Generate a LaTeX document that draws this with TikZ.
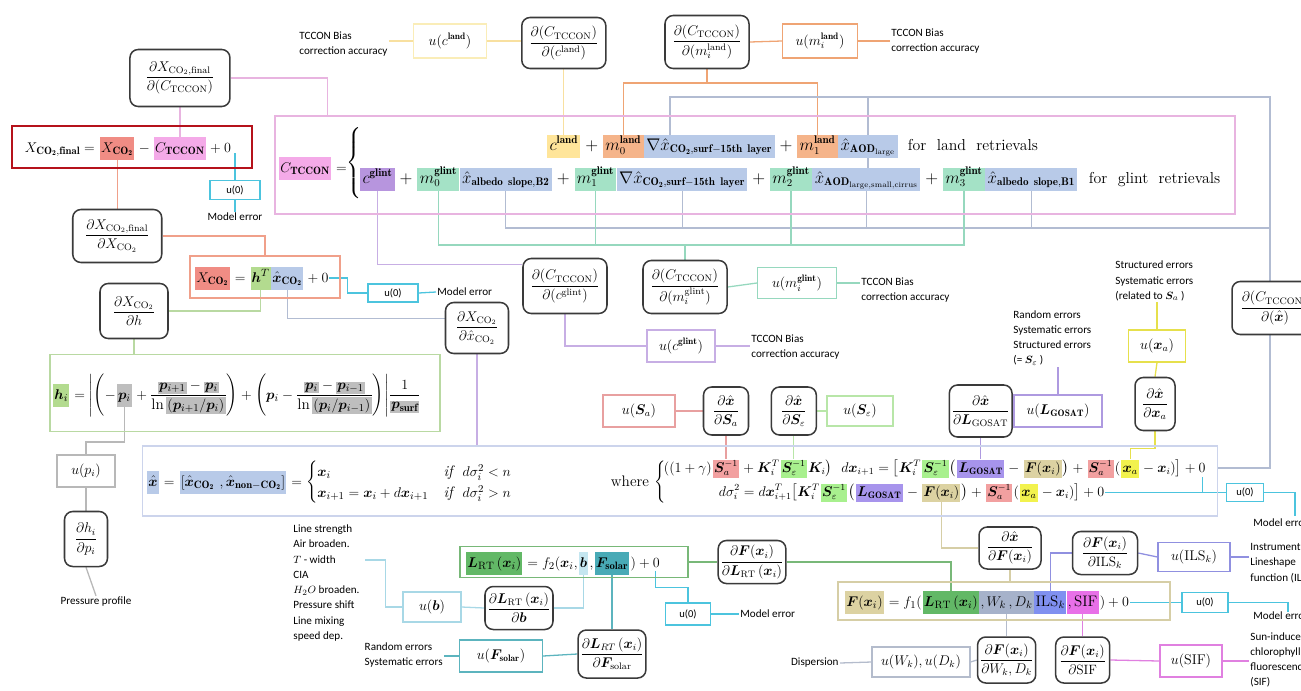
\documentclass[tikz,border=0pt]{standalone}
\usepackage{amsmath}
\usepackage{bm}
\usepackage{fontspec}
\newfontfamily\lblfont{Carlito}
\usetikzlibrary{calc,positioning}
\pgfdeclarelayer{bg}
\pgfsetlayers{bg,main}

\definecolor{dgray}{HTML}{3A3A3A}
\definecolor{cDarkRed}{HTML}{B5121B}
\definecolor{cRed}{HTML}{F08C84}
\definecolor{cSalmon}{HTML}{F0A08A}
\definecolor{cPink}{HTML}{F4AAE8}
\definecolor{cPinkW}{HTML}{E8B4E0}
\definecolor{cYellow}{HTML}{FFE59A}
\definecolor{cYellowW}{HTML}{F8E0A0}
\definecolor{cYellowB}{HTML}{FAEDB8}
\definecolor{cOrange}{HTML}{F5B48A}
\definecolor{cOrangeW}{HTML}{EFA474}
\definecolor{cBlue}{HTML}{B8CAE8}
\definecolor{cBlueW}{HTML}{B2BCD2}
\definecolor{cMint}{HTML}{A4E2C6}
\definecolor{cMintW}{HTML}{96D8BE}
\definecolor{cPurple}{HTML}{B795DE}
\definecolor{cPurpleW}{HTML}{C7AEE4}
\definecolor{cGreen}{HTML}{B3DB8F}
\definecolor{cGreenW}{HTML}{B9D9A2}
\definecolor{cGray}{HTML}{BEBEBE}
\definecolor{cGrayW}{HTML}{B8B8B8}
\definecolor{cCyan}{HTML}{4CC4DE}
\definecolor{cSa}{HTML}{F2A0A0}
\definecolor{cSaW}{HTML}{E8A0A0}
\definecolor{cSe}{HTML}{A8F08E}
\definecolor{cSeW}{HTML}{B8E6A8}
\definecolor{cLG}{HTML}{A794EC}
\definecolor{cLGW}{HTML}{AE9AE0}
\definecolor{cFx}{HTML}{DCD2A2}
\definecolor{cFxW}{HTML}{D6CEA6}
\definecolor{cXa}{HTML}{F2F24E}
\definecolor{cXaW}{HTML}{E6E04C}
\definecolor{cLav}{HTML}{CCD4EC}
\definecolor{cLRT}{HTML}{62B866}
\definecolor{cLRTW}{HTML}{78B878}
\definecolor{cB}{HTML}{C4E6F0}
\definecolor{cBW}{HTML}{A8D8E6}
\definecolor{cFs}{HTML}{48AAB6}
\definecolor{cFsW}{HTML}{5CB4BE}
\definecolor{cWD}{HTML}{A6B2CA}
\definecolor{cWDW}{HTML}{B4BCCC}
\definecolor{cILS}{HTML}{8090F0}
\definecolor{cILSW}{HTML}{9090E0}
\definecolor{cSIF}{HTML}{E870E8}
\definecolor{cSIFW}{HTML}{E080E0}

\newcommand{\eqsize}{\fontsize{13.5}{15}\selectfont}
\newcommand{\hqsize}{\fontsize{13}{15}\selectfont}
\newcommand{\rowsize}{\fontsize{12}{14}\selectfont}
\newcommand{\dsize}{\fontsize{11.5}{13}\selectfont}
\newcommand{\usize}{\fontsize{12}{14}\selectfont}
\newcommand{\hg}[1]{{\setlength{\fboxsep}{1pt}\colorbox{cGray}{$#1$}}}
\newcommand{\tcc}{\mathbf{TCCON}}

\tikzset{
  sz/.style 2 args={minimum width=#1*0.3mm, minimum height=#2*0.3mm},
  eqbox/.style={draw=#1, line width=1pt, inner sep=0pt},
  hl/.style={fill=#1, inner xsep=2pt, inner ysep=2pt, text height=11pt, text depth=4.5pt, font=\eqsize},
  hlc/.style={hl=#1, inner xsep=1pt, font=\hqsize},
  hls/.style={fill=#1, inner xsep=1pt, inner ysep=1pt, text height=9.5pt, text depth=4pt, font=\rowsize},
  eqt/.style={inner xsep=0.6pt, inner ysep=0pt, font=\eqsize},
  eqc/.style={eqt, font=\hqsize},
  eqr/.style={eqt, font=\rowsize},
  nxt/.style={anchor=base west, at={(#1.base east)}},
  deriv/.style={draw=dgray, line width=1.3pt, rounded corners=7pt, fill=white, inner sep=2pt, font=\dsize},
  ubox/.style={draw=#1, line width=1pt, fill=white, inner sep=2pt, font=\usize},
  uzero/.style={ubox=cCyan, font={\lblfont\fontsize{9}{10}\selectfont}},
  lbl/.style={font={\lblfont\fontsize{9.5}{13}\selectfont}, align=left, inner sep=1pt},
  wire/.style={draw=#1, line width=1.1pt},
}

\begin{document}
\begin{tikzpicture}[x=0.3mm, y=-0.3mm]
\useasboundingbox (0,0) rectangle (1301,690);

% final XCO2
\node[eqbox=cDarkRed, line width=2.4pt, sz={240}{42}] (finbox) at (132,147) {};
\node[eqc, anchor=base west] (fin0) at (24,152) {$X_{\mathbf{CO_2,final}}={}$};
\node[hlc=cRed, nxt=fin0] (fxco2) {$X_{\mathbf{CO_2}}$};
\node[eqc, nxt=fxco2] (fin1) {${}-{}$};
\node[hlc=cPink, nxt=fin1] (fctc) {$C_{\tcc}$};
\node[eqc, nxt=fctc] (fin2) {${}+0$};

% C_TCCON
\node[eqbox=cPinkW, sz={960}{98}] (tccbox) at (755,165) {};
\node[hlc=cPink, anchor=base west] (ctc) at (279,172) {$C_{\tcc}$};
\node[eqc, nxt=ctc] (ceq) {${}={}$};
\node[eqt] (brc) at (355,163) {$\left\{\vrule width 0pt height 26pt depth 26pt\right.$};
\node[hl=cYellow, anchor=base west] (cland) at (547,150) {$c^{\mathbf{land}}$};
\node[eqt, nxt=cland] (lp1) {${}+{}$};
\node[hl=cOrange, nxt=lp1] (m0l) {$m_0^{\mathbf{land}}$};
\node[hl=cBlue, nxt=m0l] (gradl) {$\nabla\hat{x}_{\mathbf{CO_2,surf-15th\ layer}}$};
\node[eqt, nxt=gradl] (lp2) {${}+{}$};
\node[hl=cOrange, nxt=lp2] (m1l) {$m_1^{\mathbf{land}}$};
\node[hl=cBlue, nxt=m1l] (aodl) {$\hat{x}_{\mathbf{AOD}_{\mathrm{large}}}$};
\node[eqt, anchor=base west] (lret) at (907,150) {for\ \ land\ \ retrievals};
\node[hl=cPurple, anchor=base west] (cglint) at (360,183) {$c^{\mathbf{glint}}$};
\node[eqt, nxt=cglint] (gp1) {${}+{}$};
\node[hl=cMint, nxt=gp1] (m0g) {$m_0^{\mathbf{glint}}$};
\node[hl=cBlue, nxt=m0g] (albB2) {$\hat{x}_{\mathbf{albedo\ slope,B2}}$};
\node[eqt, nxt=albB2] (gp2) {${}+{}$};
\node[hl=cMint, nxt=gp2] (m1g) {$m_1^{\mathbf{glint}}$};
\node[hl=cBlue, nxt=m1g] (gradg) {$\nabla\hat{x}_{\mathbf{CO_2,surf-15th\ layer}}$};
\node[eqt, nxt=gradg] (gp3) {${}+{}$};
\node[hl=cMint, nxt=gp3] (m2g) {$m_2^{\mathbf{glint}}$};
\node[hl=cBlue, nxt=m2g] (aodg) {$\hat{x}_{\mathbf{AOD}_{\mathrm{large,small,cirrus}}}$};
\node[eqt, nxt=aodg] (gp4) {${}+{}$};
\node[hl=cMint, nxt=gp4] (m3g) {$m_3^{\mathbf{glint}}$};
\node[hl=cBlue, nxt=m3g] (albB1) {$\hat{x}_{\mathbf{albedo\ slope,B1}}$};
\node[eqt, anchor=base west] (gret) at (1088,183) {for\ \ glint\ \ retrievals};

% XCO2
\node[eqbox=cSalmon, sz={150}{42}] (xbox) at (265,277) {};
\node[hlc=cRed, anchor=base west] (xco2) at (195,282) {$X_{\mathbf{CO_2}}$};
\node[eqc, nxt=xco2] (xe1) {${}={}$};
\node[hlc=cGreen, nxt=xe1] (hT) {$\bm h^T$};
\node[hlc=cBlue, nxt=hT] (xhco2) {$\hat{\bm x}_{\mathbf{CO_2}}$};
\node[eqc, nxt=xhco2] (xe2) {${}+0$};

% h_i
\node[eqbox=cGreenW, sz={390}{77}] (hbox) at (245,393) {};
\node[hlc=cGreen, anchor=base west] (hi) at (53,399) {$\bm h_i$};
\node[eqc, nxt=hi] (h1) {${}={}\Bigg|\Bigg(-$};
\node[hlc=cGray, nxt=h1] (pi) {$\bm p_i$};
\node[eqc, nxt=pi] (h2) {${}+\dfrac{\hg{\bm p_{i+1}}-\hg{\bm p_i}}{\ln\hg{(\bm p_{i+1}/\bm p_i)}}\Bigg)+\Bigg(\bm p_i-\dfrac{\hg{\bm p_i}-\hg{\bm p_{i-1}}}{\ln\hg{(\bm p_i/\bm p_{i-1})}}\Bigg)\Bigg|\dfrac{1}{\hg{\bm p_{\mathbf{surf}}}}$};

% x hat
\node[eqbox=cLav, sz={1075}{70}] (xhbox) at (680,481) {};
\node[hlc=cBlue, anchor=base west] (xh) at (147,486) {$\hat{\bm x}$};
\node[eqc, nxt=xh] (xq1) {${}={}$};
\node[hlc=cBlue, nxt=xq1] (xhv) {$[\hat{\bm x}_{\mathbf{CO_2}}\ ,\hat{\bm x}_{\mathbf{non-CO_2}}]$};
\node[eqc, nxt=xhv] (xq2) {${}=\begin{cases}\bm x_i & \mathit{if}\ \ d\sigma_i^2<n\\ \bm x_{i+1}=\bm x_i+d\bm x_{i+1} & \mathit{if}\ \ d\sigma_i^2>n\end{cases}$};
\node[eqc, anchor=base west] (where) at (610,486) {where\ $\left\{\vrule width 0pt height 20pt depth 14pt\right.$};
\node[eqr, anchor=base west] (r1a) at (663,472) {$((1+\gamma)$};
\node[hls=cSa, nxt=r1a] (r1Sa) {$\bm S_a^{-1}$};
\node[eqr, nxt=r1Sa] (r1b) {${}+\bm K_i^T$};
\node[hls=cSe, nxt=r1b] (r1Se) {$\bm S_\varepsilon^{-1}$};
\node[eqr, nxt=r1Se] (r1c) {$\bm K_i\big)\ \ d\bm x_{i+1}=\big[\bm K_i^T$};
\node[hls=cSe, nxt=r1c] (r1Se2) {$\bm S_\varepsilon^{-1}$};
\node[eqr, nxt=r1Se2] (r1d) {$\big($};
\node[hls=cLG, nxt=r1d] (r1L) {$\bm L_{\mathbf{GOSAT}}$};
\node[eqr, nxt=r1L] (r1e) {${}-{}$};
\node[hls=cFx, nxt=r1e] (r1F) {$\bm F(\bm x_i)$};
\node[eqr, nxt=r1F] (r1f) {$\big)+{}$};
\node[hls=cSa, nxt=r1f] (r1Sa2) {$\bm S_a^{-1}$};
\node[eqr, nxt=r1Sa2] (r1g) {$($};
\node[hls=cXa, nxt=r1g] (r1xa) {$\bm x_a$};
\node[eqr, nxt=r1xa] (r1h) {${}-\bm x_i)\big]+0$};
\node[eqr, anchor=base west] (r2a) at (718,496) {$d\sigma_i^2=d\bm x_{i+1}^T\big[\bm K_i^T$};
\node[hls=cSe, nxt=r2a] (r2Se) {$\bm S_\varepsilon^{-1}$};
\node[eqr, nxt=r2Se] (r2b) {$\big($};
\node[hls=cLG, nxt=r2b] (r2L) {$\bm L_{\mathbf{GOSAT}}$};
\node[eqr, nxt=r2L] (r2c) {${}-{}$};
\node[hls=cFx, nxt=r2c] (r2F) {$\bm F(\bm x_i)$};
\node[eqr, nxt=r2F] (r2d) {$\big)+{}$};
\node[hls=cSa, nxt=r2d] (r2Sa) {$\bm S_a^{-1}$};
\node[eqr, nxt=r2Sa] (r2e) {$($};
\node[hls=cXa, nxt=r2e] (r2xa) {$\bm x_a$};
\node[eqr, nxt=r2xa] (r2f) {${}-\bm x_i)\big]+0$};

% L_RT
\node[eqbox=cLRTW, sz={228}{31}] (lrbox) at (574,562) {};
\node[hlc=cLRT, anchor=base west] (lrt) at (466,567) {$\bm L_{\mathrm{RT}}\,(\bm x_i)$};
\node[eqc, nxt=lrt] (lq1) {${}=f_2(\bm x_i,$};
\node[hlc=cB, nxt=lq1] (bvec) {$\bm b$};
\node[eqc, nxt=bvec] (lq2) {$,$};
\node[hlc=cFs, nxt=lq2] (fsol) {$\bm F_{\mathbf{solar}}$};
\node[eqc, nxt=fsol] (lq3) {$)+0$};

% F(x_i)
\node[eqbox=cFxW, sz={332}{38}] (fbox) at (1004,601) {};
\node[hlc=cFx, anchor=base west] (fx) at (845,606) {$\bm F(\bm x_i)$};
\node[eqc, nxt=fx] (fq1) {${}=f_1($};
\node[hlc=cLRT, nxt=fq1] (lrtf) {$\bm L_{\mathrm{RT}}\,(\bm x_i)$};
\node[hlc=cWD, nxt=lrtf] (wd) {$,W_k\,,D_k$};
\node[hlc=cILS, nxt=wd] (ils) {$\mathrm{ILS}_k$};
\node[hlc=cSIF, nxt=ils] (sif) {$,\mathrm{SIF}$};
\node[eqc, nxt=sif] (fq2) {$)+0$};

% derivatives, uncertainties, labels
\node[deriv, sz={100}{57}] (dXC) at (fctc.north |- 0,78) {$\dfrac{\partial X_{\mathrm{CO_2,final}}}{\partial(C_{\mathrm{TCCON}})}$};
\node[deriv, sz={89}{53}] (dXX) at (fxco2.south |- 0,236) {$\dfrac{\partial X_{\mathrm{CO_2,final}}}{\partial X_{\mathrm{CO_2}}}$};
\node[deriv, sz={68}{55}] (dXh) at (134,311) {$\dfrac{\partial X_{\mathrm{CO_2}}}{\partial h}$};
\node[deriv, sz={63}{51}] (dXxh) at (477,328) {$\dfrac{\partial X_{\mathrm{CO_2}}}{\partial \hat{x}_{\mathrm{CO_2}}}$};
\node[uzero, sz={50}{19}] (u0a) at (235,190) {u(0)};
\node[lbl] (me1) at (235,217) {Model error};
\node[uzero, sz={50}{18}] (u0b) at (393,293) {u(0)};
\node[lbl, anchor=west] (me2) at (436,292) {Model error};

\node[lbl, anchor=west] (tlA) at (298,44) {TCCON Bias\\correction accuracy};
\node[ubox=cYellowB, sz={73}{34}] (ucl) at (450,41) {$u(c^{\mathbf{land}})$};
\node[deriv, sz={84}{51}] (dCl) at (cland.north |- 0,43) {$\dfrac{\partial(C_{\mathrm{TCCON}})}{\partial(c^{\mathrm{land}})}$};
\node[deriv, sz={84}{53}] (dCm) at (707,42) {$\dfrac{\partial(C_{\mathrm{TCCON}})}{\partial(m_i^{\mathrm{land}})}$};
\node[ubox=cOrangeW, sz={75}{34}] (uml) at (820,41) {$u(m_i^{\mathbf{land}})$};
\node[lbl, anchor=west] (tlB) at (890,41) {TCCON Bias\\correction accuracy};

\node[deriv, sz={84}{55}] (dCg) at (565,286) {$\dfrac{\partial(C_{\mathrm{TCCON}})}{\partial(c^{\mathrm{glint}})}$};
\node[ubox=cPurpleW, sz={68}{32}] (ucg) at (681,346) {$u(c^{\mathbf{glint}})$};
\node[lbl, anchor=west] (tlC) at (750,347) {TCCON Bias\\correction accuracy};
\node[deriv, sz={84}{53}] (dCmg) at (685,287) {$\dfrac{\partial(C_{\mathrm{TCCON}})}{\partial(m_i^{\mathrm{glint}})}$};
\node[ubox=cMintW, sz={79}{31}] (umg) at (797,283) {$u(m_i^{\mathbf{glint}})$};
\node[lbl, anchor=west] (tlD) at (860,290) {TCCON Bias\\correction accuracy};
\node[deriv, sz={86}{53}] (dCx) at (1275,308) {$\dfrac{\partial(C_{\mathrm{TCCON}})}{\partial(\hat{\bm x})}$};

\node[ubox=cGrayW, sz={58}{32}] (upi) at (86,471) {$u(p_i)$};
\node[deriv, sz={43}{55}] (dhp) at (86,539) {$\dfrac{\partial h_i}{\partial p_i}$};
\node[lbl] (pp) at (96,602) {Pressure profile};

\node[ubox=cSaW, sz={72}{32}] (uSa) at (639,411) {$u(\bm S_a)$};
\node[deriv, sz={45}{48}] (dSa) at (r1Sa.north |- 0,411) {$\dfrac{\partial\hat{\bm x}}{\partial\bm S_a}$};
\node[deriv, sz={45}{48}] (dSe) at (r1Se.north |- 0,411) {$\dfrac{\partial\hat{\bm x}}{\partial\bm S_\varepsilon}$};
\node[ubox=cSeW, sz={66}{30}] (uSe) at (860,411) {$u(\bm S_\varepsilon)$};
\node[deriv, sz={60}{52}] (dLG) at (r1L.north |- 0,411) {$\dfrac{\partial\hat{\bm x}}{\partial\bm L_{\mathrm{GOSAT}}}$};
\node[ubox=cLGW, sz={88}{32}] (uLG) at (1058,411) {$u(\bm L_{\mathbf{GOSAT}})$};
\node[lbl, anchor=west] (tlE) at (1012,338) {Random errors\\Systematic errors\\Structured errors\\(= $\bm S_\varepsilon$ )};
\node[deriv, sz={40}{53}] (dxa) at (1155,404) {$\dfrac{\partial\hat{\bm x}}{\partial\bm x_a}$};
\node[ubox=cXaW, sz={57}{32}] (uxa) at (1157,346) {$u(\bm x_a)$};
\node[lbl, anchor=west] (tlF) at (1114,281) {Structured errors\\Systematic errors\\(related to $\bm S_a$ )};
\node[uzero, sz={37}{18}] (u0c) at (r2f.east -| 1245,0) {u(0)};
\coordinate (me3c) at (1295,516);
\node[lbl, anchor=north west] (me3) at (1252,517) {Model error};

\node[deriv, sz={62}{42}] (dFx) at (1010,548) {$\dfrac{\partial\hat{\bm x}}{\partial\bm F(\bm x_i)}$};
\node[deriv, sz={65}{43}] (dFL) at (752,562) {$\dfrac{\partial\bm F(\bm x_i)}{\partial\bm L_{\mathrm{RT}}\,(\bm x_i)}$};
\node[deriv, sz={65}{43}] (dFI) at (1105,553) {$\dfrac{\partial\bm F(\bm x_i)}{\partial\mathrm{ILS}_k}$};
\node[ubox=cILSW, sz={72}{29}] (uils) at (1194,557) {$u(\mathrm{ILS}_k)$};
\node[lbl, anchor=west] (tlG) at (1249,563) {Instrument\\Lineshape\\function (ILS)};
\node[uzero, sz={46}{20}] (u0d) at (fq2.east -| 1205,0) {u(0)};
\coordinate (me4c) at (1288,612);
\node[lbl, anchor=north west] (me4) at (1252,610) {Model error};
\node[deriv, sz={52}{46}] (dWD) at (wd.south |- 0,660) {$\dfrac{\partial\bm F(\bm x_i)}{\partial W_k,D_k}$};
\node[ubox=cWDW, sz={98}{30}] (uwd) at (921,662) {$u(W_k),u(D_k)$};
\node[lbl, anchor=east] (disp) at (840,663) {Dispersion};
\node[deriv, sz={54}{46}] (dSIF) at (sif.south |- 0,660) {$\dfrac{\partial\bm F(\bm x_i)}{\partial\mathrm{SIF}}$};
\node[ubox=cSIFW, sz={62}{32}] (usif) at (1191,661) {$u(\mathrm{SIF})$};
\node[lbl, anchor=west] (tlH) at (1249,660) {Sun-induced\\chlorophyll\\fluorescence\\(SIF)};

\node[deriv, sz={68}{43}] (dLb) at (519,608) {$\dfrac{\partial\bm L_{\mathrm{RT}}\,(\bm x_i)}{\partial\bm b}$};
\node[ubox=cBW, sz={58}{30}] (ub) at (432,607) {$u(\bm b)$};
\node[lbl, anchor=west] (tlb) at (292,583) {Line strength\\Air broaden.\\$T$ - width\\CIA\\$H_2O$ broaden.\\Pressure shift\\Line mixing\\speed dep.};
\node[uzero, sz={45}{22}] (u0e) at (688,614) {u(0)};
\node[lbl, anchor=west] (me5) at (739,614) {Model error};
\node[deriv, sz={60}{48}] (dFs) at (fsol.south |- 0,654) {$\dfrac{\partial\bm L_{RT}\,(\bm x_i)}{\partial\bm F_{\mathrm{solar}}}$};
\node[ubox=cFsW, sz={83}{32}] (ufs) at (501,656) {$u(\bm F_{\mathbf{solar}})$};
\node[lbl, anchor=east] (tlFs) at (444,655) {Random errors\\Systematic errors};

\coordinate (pk) at ($(tccbox.north west)+(53,0)$);
\coordinate (ob) at (0,83);
\coordinate (bt) at (1270,97);
\coordinate (bb) at (1270,228);
\coordinate (tb) at (0,245);
\coordinate (gl) at ($(gradl.north west)!0.2!(gradl.north east)$);
\coordinate (lb1) at (365,560);

\begin{pgfonlayer}{bg}
% final and XCO2
\draw[wire=cPinkW] (dXC.south) -- (dXC.south |- fctc.north);
\draw[wire=cPinkW] (dXC.east) -| (pk);
\draw[wire=cSalmon] (fxco2.south) -- (dXX.north);
\draw[wire=cSalmon] (dXX.east) -| (xbox.north);
\draw[wire=cCyan] (fin2.south -| u0a.north) -- (u0a.north);
\draw[wire=cCyan] (u0a.south) -- (me1.north);
\draw[wire=cCyan] (xe2.east) -- ++(18,0) |- (u0b.west);
\draw[wire=cCyan] (u0b.east) -- (me2.west);
\draw[wire=cGreenW] (hT.south) |- (dXh.east);
\draw[wire=cGreenW] (dXh.south) -- (dXh.south |- hbox.north);
\draw[wire=cBlueW] (xhco2.south) |- ([yshift=8pt]dXxh.west);
\draw[wire=cPurpleW] (dXxh.south) -- (dXxh.south |- xhbox.north);
\draw[wire=cGrayW] (pi.south) -- ($(pi.south |- hbox.south)+(0,10)$) -| (upi.north);
\draw[wire=cGrayW] (upi.south) -- (dhp.north);
\draw[wire=cGrayW] (dhp.south) -- (pp.north);
% land terms
\draw[wire=cYellowW] (tlA.east |- ucl.west) -- (ucl.west);
\draw[wire=cYellowW] (ucl.east) -- (ucl.east -| dCl.west);
\draw[wire=cYellowW] (dCl.south) -- (cland.north);
\draw[wire=cOrangeW] (dCm.east) -- (uml.west);
\draw[wire=cOrangeW] (uml.east) -- (uml.east -| tlB.west);
\draw[wire=cOrangeW] (dCm.south) -- (dCm.south |- ob);
\draw[wire=cOrangeW] (m0l.north) |- (m1l.north |- ob) -- (m1l.north);
% state vector terms
\draw[wire=cBlueW] (gl) |- (bt) |- ($(xhbox.east)+(0,-13)$);
\draw[wire=cBlueW] (aodl.north) -- (aodl.north |- bt);
\draw[wire=cBlueW] (aodl.south) -- (aodl.south |- aodg.north);
\draw[wire=cBlueW] (albB2.south) |- (bb);
\draw[wire=cBlueW] (gradg.south) -- (gradg.south |- bb);
\draw[wire=cBlueW] (aodg.south) -- (aodg.south |- bb);
\draw[wire=cBlueW] (albB1.south) -- (albB1.south |- bb);
% glint terms
\draw[wire=cMintW] (m0g.south) |- (m3g.south |- tb) -- (m3g.south);
\draw[wire=cMintW] (m1g.south) -- (m1g.south |- tb);
\draw[wire=cMintW] (m2g.south) -- (m2g.south |- tb);
\draw[wire=cMintW] (dCmg.north) -- (dCmg.north |- tb);
\draw[wire=cMintW] (dCmg.east) -- (umg.west);
\draw[wire=cMintW] (umg.east) -- (umg.east -| tlD.west);
\draw[wire=cPurpleW] (cglint.south) |- ([yshift=-6pt]dCg.north west);
\draw[wire=cPurpleW] (dCg.south) |- (ucg.west);
\draw[wire=cPurpleW] (ucg.east) -- (ucg.east -| tlC.west);
% retrieval
\draw[wire=cSaW] (uSa.east) -- (dSa.west);
\draw[wire=cSaW] (dSa.south) -- (r1Sa.north);
\draw[wire=cSeW] (dSe.south) -- (r1Se.north);
\draw[wire=cSeW] (dSe.east) -- (uSe.west);
\draw[wire=cLGW] (dLG.south) -- (r1L.north);
\draw[wire=cLGW] (dLG.east) -- (uLG.west);
\draw[wire=cLGW] (uLG.north) -- (uLG.north |- tlE.south);
\draw[wire=cXaW] (uxa.north |- tlF.south) -- (uxa.north);
\draw[wire=cXaW] (uxa.south) -- (dxa.north);
\draw[wire=cXaW] (dxa.south) -- ++(0,17) -| (r1xa.north);
\draw[wire=cCyan] (r2f.east) -- (u0c.west);
\draw[wire=cCyan] ($(r1h.south east)+(-4,0)$) -- ($(r1h.south east |- r2f.east)+(-4,0)$);
\draw[wire=cCyan] (u0c.east) -| (me3c);
\draw[wire=cFxW] (r2F.south) |- (dFx.west);
\draw[wire=cFxW] (dFx.south) -- (dFx.south |- fbox.north);
% forward model
\draw[wire=cLRTW] (lrbox.east) -- (dFL.west);
\draw[wire=cLRTW] (dFL.east) -| (lrtf.north);
\draw[wire=cBW] (bvec.south) |- (dLb.east);
\draw[wire=cBW] (ub.east) -- (dLb.west);
\draw[wire=cBW] (lb1) -| ($(ub.west)+(-17,0)$) -- (ub.west);
\draw[wire=cFsW] (fsol.south) -- (dFs.north);
\draw[wire=cFsW] (ufs.east) -- (dFs.west);
\draw[wire=cFsW] (tlFs.east |- ufs.west) -- (ufs.west);
\draw[wire=cCyan] ($(lq3.south east)+(-5,0)$) -- ++(0,17) -| (u0e.north);
\draw[wire=cCyan] (u0e.east) -- (me5.west);
\draw[wire=cILSW] (ils.north) |- (dFI.west);
\draw[wire=cILSW] (dFI.east) -- (uils.west);
\draw[wire=cILSW] (uils.east) -- (uils.east -| tlG.west);
\draw[wire=cCyan] (fq2.east) -- (u0d.west);
\draw[wire=cCyan] (u0d.east) -| (me4c);
\draw[wire=cWDW] (wd.south) -- (dWD.north);
\draw[wire=cWDW] (uwd.east) -- (dWD.west);
\draw[wire=cWDW] (disp.east) -- (uwd.west);
\draw[wire=cSIFW] (sif.south) -- (dSIF.north);
\draw[wire=cSIFW] (dSIF.east) -- (usif.west);
\draw[wire=cSIFW] (usif.east) -- (usif.east -| tlH.west);
\end{pgfonlayer}
\end{tikzpicture}
\end{document}
